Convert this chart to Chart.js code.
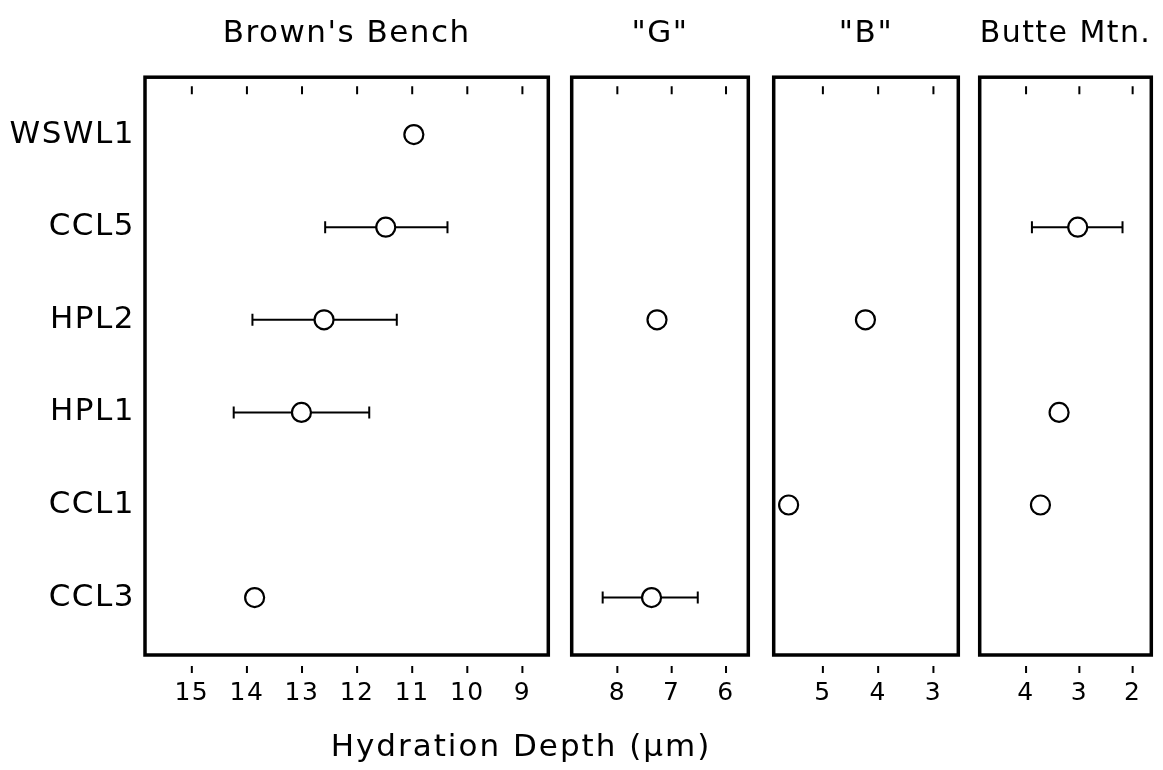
<!DOCTYPE html>
<html>
<head>
<meta charset="utf-8">
<script src="https://cdn.jsdelivr.net/npm/chart.js@4.4.1/dist/chart.umd.min.js"></script>
<style>
  body { margin: 0; background: #fff; width: 1163px; height: 770px; position: relative; overflow: hidden; }
  .panel { position: absolute; top: 0; height: 770px; }
  #xtitle { position: absolute; left: 271px; width: 500px; top: 727px; text-align: center;
    font: 31px "DejaVu Sans"; letter-spacing: 2px; line-height: 36px; color: #000; }
</style>
</head>
<body>
<div class="panel" style="left:0;width:560px"><canvas id="bench" width="560" height="770"></canvas></div>
<div class="panel" style="left:560px;width:200px"><canvas id="obsG" width="200" height="770"></canvas></div>
<div class="panel" style="left:762px;width:208px"><canvas id="obsB" width="208" height="770"></canvas></div>
<div class="panel" style="left:968px;width:195px"><canvas id="butte" width="195" height="770"></canvas></div>
<div id="xtitle">Hydration Depth (μm)</div>
<script>
'use strict';

var samples = ['WSWL1', 'CCL5', 'HPL2', 'HPL1', 'CCL1', 'CCL3'];

// hydration depth (µm) per sample, null = not measured
var brownsBench = [10.97, 11.48, 12.6, 13.01, null, 13.86];
var brownsBenchLow = [null, 10.36, 11.28, 11.78, null, null];
var brownsBenchHigh = [null, 12.58, 13.9, 14.24, null, null];
var sourceG = [null, null, 7.27, null, null, 7.37];
var sourceGLow = [null, null, null, null, null, 6.52];
var sourceGHigh = [null, null, null, null, null, 8.27];
var sourceB = [null, null, 4.23, null, 5.62, null];
var butteMtn = [null, 3.03, null, 3.38, 3.73, null];
var butteMtnLow = [null, 2.19, null, null, null, null];
var butteMtnHigh = [null, 3.89, null, null, null, null];

var benchTicks = [15, 14, 13, 12, 11, 10, 9];
var gTicks = [8, 7, 6];
var bTicks = [5, 4, 3];
var butteTicks = [4, 3, 2];

var FONT = 'DejaVu Sans';

const framePlugin = {
  id: 'frame',
  beforeLayout(chart) { chart.ctx.letterSpacing = '1.5px'; },
  beforeDraw(chart) { chart.ctx.letterSpacing = '1.5px'; },
  beforeDatasetsDraw(chart) {
    const ctx = chart.ctx;
    const a = chart.chartArea;
    const xs = chart.scales.x;
    ctx.save();
    ctx.strokeStyle = '#000';
    ctx.lineWidth = 3.5;
    ctx.strokeRect(a.left, a.top, a.right - a.left, a.bottom - a.top);
    ctx.lineWidth = 2;
    ctx.beginPath();
    xs.ticks.forEach(function(t) {
      const px = xs.getPixelForValue(t.value);
      ctx.moveTo(px, a.top + 9);
      ctx.lineTo(px, a.top + 17);
      ctx.moveTo(px, a.bottom + 11);
      ctx.lineTo(px, a.bottom + 18);
    });
    ctx.stroke();
    ctx.restore();
  }
};

function makePanel(id, title, values, lows, highs, ticks, min, max, padding, showNames) {
  const points = [];
  values.forEach(function(v, i) {
    if (v !== null) points.push({ x: v, y: i });
  });
  const datasets = [{
    data: points,
    pointRadius: 9.5,
    pointBorderWidth: 2.2,
    pointBackgroundColor: '#fff',
    pointBorderColor: '#000',
    showLine: false
  }];
  lows.forEach(function(lo, i) {
    if (lo === null) return;
    datasets.push({
      data: [{ x: lo, y: i }, { x: highs[i], y: i }],
      showLine: true,
      borderColor: '#000',
      borderWidth: 2,
      pointStyle: 'line',
      rotation: 90,
      pointRadius: 6,
      pointBorderWidth: 2,
      pointBorderColor: '#000'
    });
  });

  return new Chart(document.getElementById(id), {
    type: 'scatter',
    data: { datasets: datasets },
    plugins: [framePlugin],
    options: {
      responsive: false,
      animation: false,
      layout: { padding: padding },
      plugins: {
        legend: { display: false },
        tooltip: { enabled: false },
        title: {
          display: true,
          text: title,
          fullSize: false,
          color: '#000',
          font: { family: FONT, size: 31, weight: 'normal' },
          padding: { top: 15, bottom: 25 }
        }
      },
      scales: {
        x: {
          type: 'linear',
          reverse: true,
          min: min,
          max: max,
          grid: { display: false },
          border: { display: false },
          afterBuildTicks: function(axis) {
            axis.ticks = ticks.map(function(v) { return { value: v }; });
          },
          afterFit: function(scale) { scale.height = 115; },
          ticks: {
            autoSkip: false,
            maxRotation: 0,
            color: '#000',
            padding: 15,
            font: { family: FONT, size: 25 }
          }
        },
        y: {
          type: 'linear',
          reverse: true,
          min: -0.62,
          max: 5.62,
          display: showNames,
          grid: { display: false },
          border: { display: false },
          afterBuildTicks: function(axis) {
            axis.ticks = samples.map(function(s, i) { return { value: i }; });
          },
          afterFit: function(scale) { if (showNames) scale.width = 145; },
          ticks: {
            autoSkip: false,
            color: '#000',
            padding: 2,
            font: { family: FONT, size: 31 },
            callback: function(v) { return samples[v]; }
          }
        }
      }
    }
  });
}

makePanel('bench', "Brown's Bench", brownsBench, brownsBenchLow, brownsBenchHigh,
  benchTicks, 8.53, 15.85, { right: 10 }, true);
makePanel('obsG', '"G"', sourceG, sourceGLow, sourceGHigh,
  gTicks, 5.59, 8.84, { left: 10, right: 8 }, false);
makePanel('obsB', '"B"', sourceB, [null, null, null, null, null, null], [],
  bTicks, 2.55, 5.89, { left: 11, right: 10 }, false);
makePanel('butte', 'Butte Mtn.', butteMtn, butteMtnLow, butteMtnHigh,
  butteTicks, 1.65, 4.87, { left: 10, right: 3 }, false);
</script>
</body>
</html>
